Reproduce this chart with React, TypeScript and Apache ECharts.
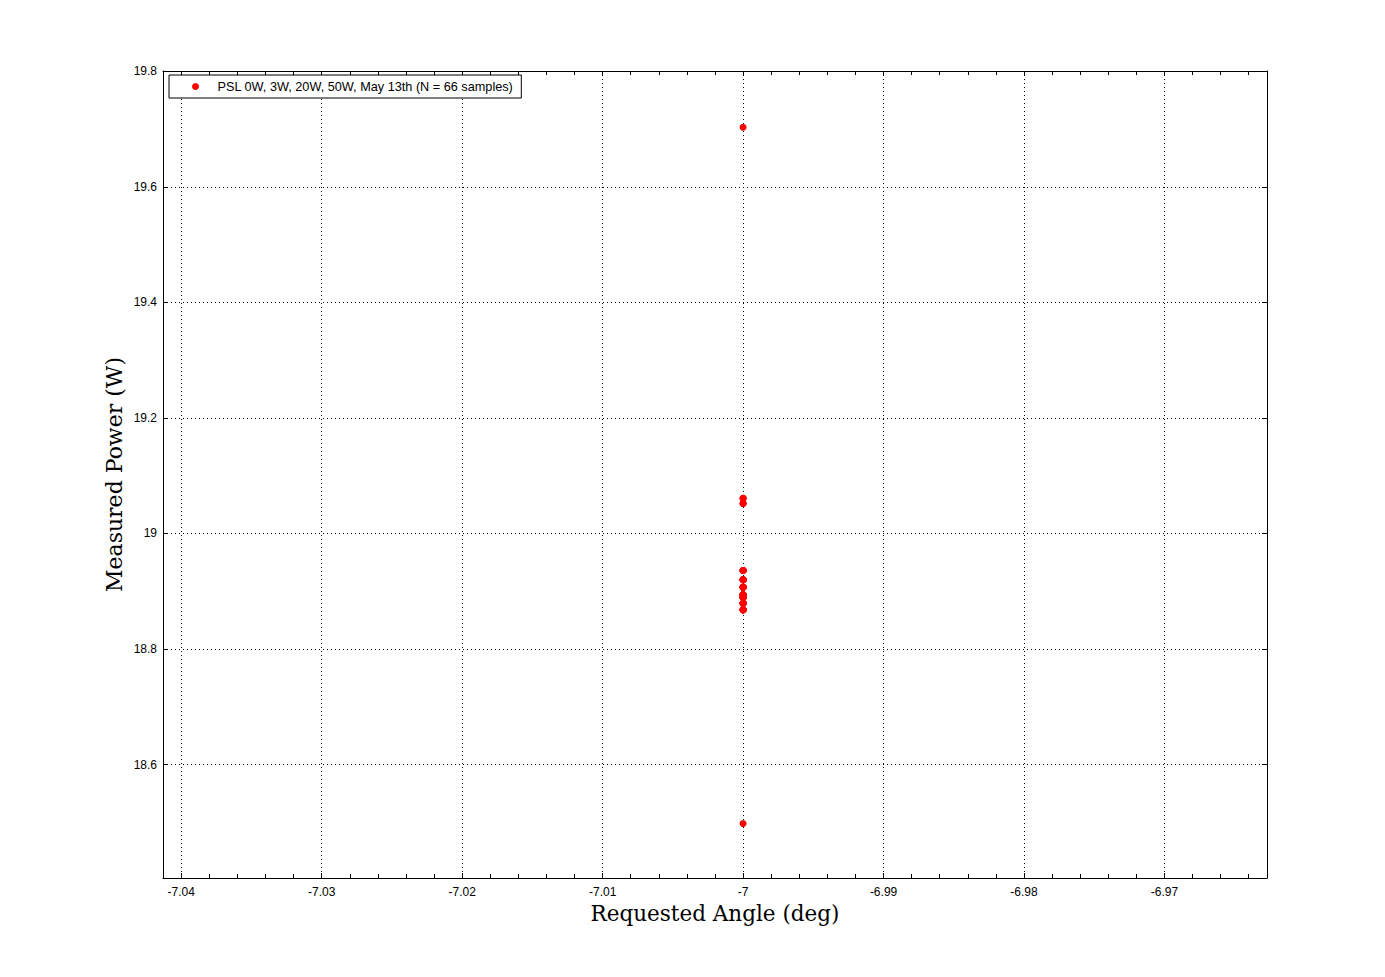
import React, { useEffect, useRef } from "react";
import * as echarts from "echarts";

// ---- data ----
const SERIES_NAME = "PSL 0W, 3W, 20W, 50W, May 13th (N = 66 samples)";
const ANGLE = -7;
const POWER: number[] = [
  19.703,
  19.061, 19.061, 19.061,
  19.052, 19.052, 19.052,
  18.936, 18.936, 18.936, 18.936, 18.936, 18.936, 18.936, 18.936,
  18.920, 18.920, 18.920, 18.920, 18.920, 18.920, 18.920, 18.920,
  18.907, 18.907, 18.907, 18.907, 18.907, 18.907, 18.907, 18.907, 18.907,
  18.894, 18.894, 18.894, 18.894, 18.894, 18.894, 18.894, 18.894, 18.894,
  18.889, 18.889, 18.889, 18.889, 18.889, 18.889, 18.889, 18.889,
  18.879, 18.879, 18.879, 18.879, 18.879, 18.879, 18.879, 18.879,
  18.868, 18.868, 18.868, 18.868, 18.868, 18.868, 18.868, 18.868,
  18.498,
];

const X_MIN = -7.0413;
const X_MAX = -6.9627;
const Y_MIN = 18.4036;
const Y_MAX = 19.8005;

const X_TICKS = [-7.04, -7.03, -7.02, -7.01, -7.0, -6.99, -6.98, -6.97];
const X_TICK_LABELS = ["-7.04", "-7.03", "-7.02", "-7.01", "-7", "-6.99", "-6.98", "-6.97"];
const X_MINOR_TICKS = [
  -7.04, -7.038, -7.036, -7.034, -7.032,
  -7.03, -7.028, -7.026, -7.024, -7.022,
  -7.02, -7.018, -7.016, -7.014, -7.012,
  -7.01, -7.008, -7.006, -7.004, -7.002,
  -7.0, -6.998, -6.996, -6.994, -6.992,
  -6.99, -6.988, -6.986, -6.984, -6.982,
  -6.98, -6.978, -6.976, -6.974, -6.972,
  -6.97, -6.968, -6.966, -6.964,
];
const Y_TICKS = [18.6, 18.8, 19.0, 19.2, 19.4, 19.6, 19.8];
const Y_TICK_LABELS = ["18.6", "18.8", "19", "19.2", "19.4", "19.6", "19.8"];

const X_TITLE = "Requested Angle (deg)";
const Y_TITLE = "Measured Power (W)";

function labelFor(values: number[], labels: string[], v: number): string {
  for (let i = 0; i < values.length; i++) {
    if (Math.abs(values[i] - v) < 1e-6) return labels[i];
  }
  return String(v);
}

export default function App() {
  const ref = useRef<HTMLDivElement>(null);

  useEffect(() => {
    document.body.style.margin = "0";
    if (!ref.current) return;
    const chart = echarts.init(ref.current, undefined, { renderer: "svg" });

    const sans = "Liberation Sans";
    const serif = "DejaVu Serif";
    const black = "#000";

    const baseX = {
      type: "value" as const,
      min: X_MIN,
      max: X_MAX,
      scale: true,
      axisLine: { show: true, onZero: false, lineStyle: { color: black, width: 1 } },
    };
    const baseY = {
      type: "value" as const,
      min: Y_MIN,
      max: Y_MAX,
      scale: true,
      axisLine: { show: true, onZero: false, lineStyle: { color: black, width: 1 } },
    };

    const option: any = {
      animation: false,
      backgroundColor: "#fff",
      grid: { left: 163, top: 71, right: 118, bottom: 99, containLabel: false },
      legend: {
        left: 169,
        top: 75,
        orient: "horizontal",
        padding: [5, 8, 5, 23],
        itemWidth: 34,
        itemHeight: 7,
        itemGap: 0,
        icon: "circle",
        borderColor: black,
        borderWidth: 1,
        borderRadius: 0,
        backgroundColor: "#fff",
        selectedMode: false,
        textStyle: { fontFamily: sans, fontSize: 12.7, color: black },
        data: [{ name: SERIES_NAME, icon: "circle" }],
      },
      xAxis: [
        {
          ...baseX,
          position: "bottom",
          name: X_TITLE,
          nameLocation: "middle",
          nameGap: 21,
          nameTextStyle: { fontFamily: serif, fontSize: 21.5, color: black },
          axisTick: { show: true, inside: true, length: 5, customValues: X_TICKS, lineStyle: { color: black } },
          axisLabel: {
            show: true,
            customValues: X_TICKS,
            margin: 8,
            fontFamily: sans,
            fontSize: 12,
            color: black,
            formatter: (v: number) => labelFor(X_TICKS, X_TICK_LABELS, v),
          },
          splitLine: { show: true, lineStyle: { color: black, width: 1, type: [1, 3] } },
        },
        {
          ...baseX,
          position: "bottom",
          axisLine: { show: false },
          axisTick: { show: true, inside: true, length: 4, customValues: X_MINOR_TICKS, lineStyle: { color: black } },
          axisLabel: { show: false },
          splitLine: { show: false },
        },
        {
          ...baseX,
          position: "top",
          axisTick: { show: true, inside: true, length: 5, customValues: X_TICKS, lineStyle: { color: black } },
          axisLabel: { show: false },
          splitLine: { show: false },
        },
        {
          ...baseX,
          position: "top",
          axisLine: { show: false },
          axisTick: { show: true, inside: true, length: 4, customValues: X_MINOR_TICKS, lineStyle: { color: black } },
          axisLabel: { show: false },
          splitLine: { show: false },
        },
      ],
      yAxis: [
        {
          ...baseY,
          position: "left",
          name: Y_TITLE,
          nameLocation: "middle",
          nameGap: 38,
          nameMoveOverlap: false,
          nameTextStyle: { fontFamily: serif, fontSize: 22, color: black },
          axisTick: { show: true, inside: true, length: 5, customValues: Y_TICKS, lineStyle: { color: black } },
          axisLabel: {
            show: true,
            customValues: Y_TICKS,
            margin: 6,
            fontFamily: sans,
            fontSize: 12,
            color: black,
            formatter: (v: number) => labelFor(Y_TICKS, Y_TICK_LABELS, v),
          },
          splitLine: { show: true, lineStyle: { color: black, width: 1, type: [1, 3] } },
        },
        {
          ...baseY,
          position: "right",
          axisTick: { show: true, inside: true, length: 5, customValues: Y_TICKS, lineStyle: { color: black } },
          axisLabel: { show: false },
          splitLine: { show: false },
        },
      ],
      series: [
        {
          name: SERIES_NAME,
          type: "scatter",
          xAxisIndex: 0,
          yAxisIndex: 0,
          symbol: "circle",
          symbolSize: 7,
          itemStyle: { color: "#ff0000", opacity: 1 },
          emphasis: { disabled: true },
          data: POWER.map((p) => [ANGLE, p]),
          z: 5,
        },
      ],
    };

    chart.setOption(option);
    return () => chart.dispose();
  }, []);

  return <div ref={ref} style={{ width: 1385, height: 977, background: "#fff" }} />;
}
